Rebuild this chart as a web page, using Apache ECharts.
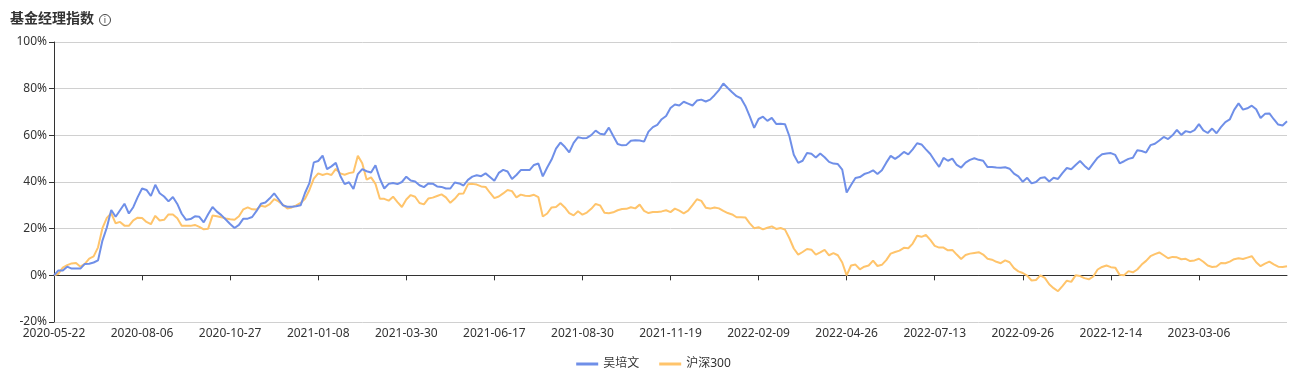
<!DOCTYPE html>
<html>
<head>
<meta charset="utf-8">
<script src="https://cdn.jsdelivr.net/npm/echarts@6/dist/echarts.min.js"></script>
<style>
  html, body { margin: 0; padding: 0; background: #fff; }
  #chart { width: 1307px; height: 378px; }
</style>
</head>
<body>
<div id="chart"></div>
<script>
// x-axis labels, one every STEP points (points sampled every 2 trading days)
const tickLabels = [
  '2020-05-22', '2020-08-06', '2020-10-27', '2021-01-08', '2021-03-30',
  '2021-06-17', '2021-08-30', '2021-11-19', '2022-02-09', '2022-04-26',
  '2022-07-13', '2022-09-26', '2022-12-14', '2023-03-06',
];
const STEP = 20;

// 吴培文 cumulative return, %
const managerValues = [
  0, 2.1, 2.1, 3.7, 2.9, 2.9, 2.9, 4.9, 5.0, 5.5,
  6.4, 14.9, 20.5, 28.0, 25.1, 27.9, 30.7, 26.5, 29.2, 33.5,
  37.2, 36.6, 34.0, 38.8, 35.2, 33.8, 31.7, 33.6, 30.6, 26.4,
  23.8, 24.1, 25.3, 25.1, 22.7, 26.2, 29.3, 27.3, 25.8, 23.9,
  22.0, 20.3, 21.6, 24.3, 24.3, 25.0, 27.6, 30.7, 31.2, 33.0,
  35.1, 32.6, 30.0, 29.4, 29.4, 29.6, 30.0, 35.3, 39.5, 48.4,
  49.0, 51.3, 45.5, 46.7, 48.2, 42.7, 39.1, 39.9, 37.0, 43.4,
  45.5, 44.6, 44.1, 47.2, 41.4, 37.2, 39.2, 39.6, 39.1, 40.0,
  42.3, 40.6, 40.2, 38.6, 37.8, 39.4, 39.3, 38.1, 37.9, 37.2,
  37.2, 39.8, 39.4, 38.5, 40.9, 42.3, 42.9, 42.5, 43.7, 42.1,
  40.5, 43.9, 45.2, 44.5, 41.3, 43.0, 45.1, 45.1, 45.1, 47.3,
  47.9, 42.4, 46.2, 49.6, 54.3, 56.9, 55.1, 52.7, 56.8, 59.2,
  58.8, 58.9, 60.1, 62.0, 60.7, 60.4, 63.3, 59.7, 56.3, 55.7,
  55.9, 57.7, 57.9, 57.8, 57.3, 61.6, 63.5, 64.5, 66.9, 68.3,
  71.7, 73.2, 72.8, 74.4, 73.6, 72.8, 74.9, 75.3, 74.5, 75.3,
  77.2, 79.4, 82.2, 80.3, 78.5, 76.8, 75.9, 72.6, 68.1, 63.2,
  67.0, 68.0, 66.2, 67.5, 64.9, 65.0, 64.8, 59.6, 51.7, 48.2,
  49.1, 52.4, 52.1, 50.5, 52.2, 50.6, 48.6, 47.9, 47.7, 45.3,
  35.5, 38.7, 41.7, 42.1, 43.4, 44.0, 45.0, 43.4, 45.0, 48.3,
  51.2, 49.9, 51.2, 52.9, 51.8, 54.0, 56.6, 56.1, 54.0, 52.0,
  49.1, 46.5, 50.3, 49.1, 50.0, 47.3, 46.2, 48.3, 49.5, 50.2,
  49.5, 49.1, 46.4, 46.4, 46.2, 46.1, 46.3, 45.7, 43.6, 42.4,
  40.1, 41.8, 39.4, 40.0, 41.7, 42.0, 40.2, 41.8, 41.3, 43.8,
  46.0, 45.5, 47.3, 49.0, 47.0, 45.4, 48.0, 50.4, 51.9, 52.2,
  52.4, 51.6, 48.0, 48.9, 49.9, 50.4, 53.6, 53.3, 52.6, 55.8,
  56.4, 57.8, 59.3, 58.4, 60.0, 62.3, 60.2, 61.8, 61.3, 62.2,
  64.8, 62.1, 61.0, 62.9, 60.9, 63.5, 65.7, 66.8, 70.9, 73.7,
  71.0, 71.6, 72.7, 71.2, 67.4, 69.2, 69.4, 66.9, 64.6, 64.2,
  66.0,
];

// 沪深300 cumulative return, %
const indexValues = [
  0, 0.7, 3.3, 4.4, 5.1, 5.3, 3.7, 4.9, 7.2, 8.1,
  12.0, 20.2, 24.6, 26.6, 22.3, 22.9, 21.3, 21.2, 23.6, 24.7,
  24.6, 22.9, 21.9, 25.5, 23.5, 23.8, 26.1, 26.1, 24.5, 21.3,
  21.2, 21.2, 21.6, 20.8, 19.7, 20.0, 25.6, 25.3, 24.9, 24.4,
  24.0, 23.8, 25.3, 28.3, 29.1, 28.3, 28.2, 29.8, 29.4, 30.5,
  32.7, 31.7, 30.2, 28.6, 29.1, 30.0, 31.0, 32.8, 36.6, 41.4,
  43.7, 43.0, 43.6, 43.0, 45.6, 43.7, 43.1, 43.8, 44.2, 51.3,
  48.0, 41.0, 42.0, 39.2, 32.8, 32.8, 32.0, 33.7, 31.4, 29.3,
  32.5, 34.4, 33.7, 31.0, 30.4, 32.9, 33.3, 34.0, 34.7, 33.4,
  31.1, 32.8, 35.0, 35.1, 39.0, 39.2, 38.9, 38.1, 37.9, 35.4,
  33.1, 33.8, 35.1, 36.6, 36.1, 33.4, 34.6, 34.1, 34.0, 34.5,
  33.5, 25.2, 26.5, 29.1, 29.3, 30.9, 29.1, 26.7, 25.7, 27.5,
  26.0, 26.9, 28.5, 30.6, 30.0, 26.8, 26.6, 27.0, 27.9, 28.4,
  28.5, 29.2, 28.7, 30.3, 27.6, 26.7, 27.1, 27.1, 27.4, 27.9,
  27.1, 28.6, 27.7, 26.6, 27.7, 30.1, 32.6, 31.9, 29.0, 28.6,
  29.1, 28.7, 27.6, 26.7, 26.1, 24.9, 24.9, 24.8, 22.3, 20.2,
  20.6, 19.7, 20.4, 21.0, 19.9, 20.3, 19.6, 15.9, 11.5, 8.9,
  10.0, 11.3, 11.0, 8.9, 9.8, 10.9, 8.6, 9.5, 8.6, 5.5,
  0.0, 4.2, 4.6, 2.6, 3.7, 4.2, 6.3, 4.0, 4.5, 6.5,
  9.3, 10.0, 10.6, 11.8, 11.6, 13.6, 17.0, 16.5, 17.3, 15.2,
  12.6, 11.9, 11.9, 10.7, 10.9, 8.9, 7.0, 8.7, 9.3, 9.6,
  9.9, 8.9, 7.1, 6.7, 5.8, 5.2, 6.4, 5.6, 3.1, 1.7,
  1.0, -0.1, -2.2, -2.0, 0.0, -1.1, -3.8, -5.5, -6.8, -4.6,
  -2.3, -2.8, 0.0, -0.3, -1.2, -1.7, -0.5, 2.5, 3.6, 4.2,
  3.5, 3.3, 0.2, 0.0, 1.8, 1.3, 2.5, 4.6, 6.2, 8.2,
  9.1, 9.8, 8.6, 7.3, 7.9, 7.7, 6.9, 7.1, 6.1, 6.4,
  7.1, 5.8, 4.2, 3.6, 3.8, 5.3, 5.2, 5.9, 6.9, 7.3,
  7.0, 7.6, 8.2, 5.6, 3.9, 5.0, 5.9, 4.7, 3.7, 3.6,
  3.9,
];

const seriesNames = ['吴培文', '沪深300'];
const seriesColors = ['#6f8fe8', '#ffc46b'];

// one category per point; only every STEP-th point carries a date label
const categories = managerValues.map((_, i) =>
  i % STEP === 0 && i / STEP < tickLabels.length ? tickLabels[i / STEP] : ''
);
const showTick = (index) => index % STEP === 0 && index / STEP < tickLabels.length;

const TEXT = '#333';
const FONT = '"Noto Sans", "Noto Sans CJK SC", sans-serif';

const chart = echarts.init(document.getElementById('chart'), null, { renderer: 'canvas' });

chart.setOption({
  animation: false,
  textStyle: { fontFamily: FONT },
  title: {
    text: '基金经理指数',
    left: 10,
    top: 12,
    padding: 0,
    textStyle: { fontSize: 14, fontWeight: 'bold', color: TEXT, fontFamily: FONT },
  },
  graphic: [
    {
      type: 'circle',
      shape: { cx: 105, cy: 20, r: 5.5 },
      style: { fill: 'none', stroke: '#444', lineWidth: 1 },
    },
    {
      type: 'text',
      x: 105,
      y: 20.5,
      style: {
        text: 'i',
        fill: '#444',
        fontSize: 9,
        fontFamily: FONT,
        align: 'center',
        verticalAlign: 'middle',
      },
    },
  ],
  legend: {
    data: seriesNames,
    left: 'center',
    top: 353,
    icon: 'rect',
    itemWidth: 22,
    itemHeight: 3,
    itemGap: 20,
    textStyle: { fontSize: 12, color: TEXT, fontFamily: FONT },
  },
  grid: { left: 54, right: 20, top: 42, bottom: 56, containLabel: false },
  xAxis: [
    {
      type: 'category',
      data: categories,
      boundaryGap: false,
      axisLine: { onZero: true, lineStyle: { color: '#333', width: 1 } },
      axisTick: { show: true, interval: showTick, length: 5, lineStyle: { color: '#333' } },
      axisLabel: { show: false },
      splitLine: { show: false },
    },
    {
      type: 'category',
      data: categories,
      boundaryGap: false,
      position: 'bottom',
      axisLine: { show: false, onZero: false },
      axisTick: { show: false },
      axisLabel: {
        interval: showTick,
        margin: 6,
        fontSize: 12,
        color: TEXT,
        fontFamily: FONT,
      },
      splitLine: { show: false },
    },
  ],
  yAxis: {
    type: 'value',
    min: -20,
    max: 100,
    interval: 20,
    axisLine: { show: true, lineStyle: { color: '#333' } },
    axisTick: { show: true, length: 5, lineStyle: { color: '#333' } },
    axisLabel: { formatter: '{value}%', fontSize: 12, color: TEXT, margin: 7, fontFamily: FONT },
    splitLine: { lineStyle: { color: '#d0d0d0' } },
  },
  series: [
    {
      name: seriesNames[0],
      type: 'line',
      data: managerValues,
      showSymbol: false,
      symbol: 'none',
      color: seriesColors[0],
      lineStyle: { width: 2, color: seriesColors[0] },
      z: 3,
    },
    {
      name: seriesNames[1],
      type: 'line',
      data: indexValues,
      showSymbol: false,
      symbol: 'none',
      color: seriesColors[1],
      lineStyle: { width: 2, color: seriesColors[1] },
      z: 2,
    },
  ],
});
</script>
</body>
</html>
